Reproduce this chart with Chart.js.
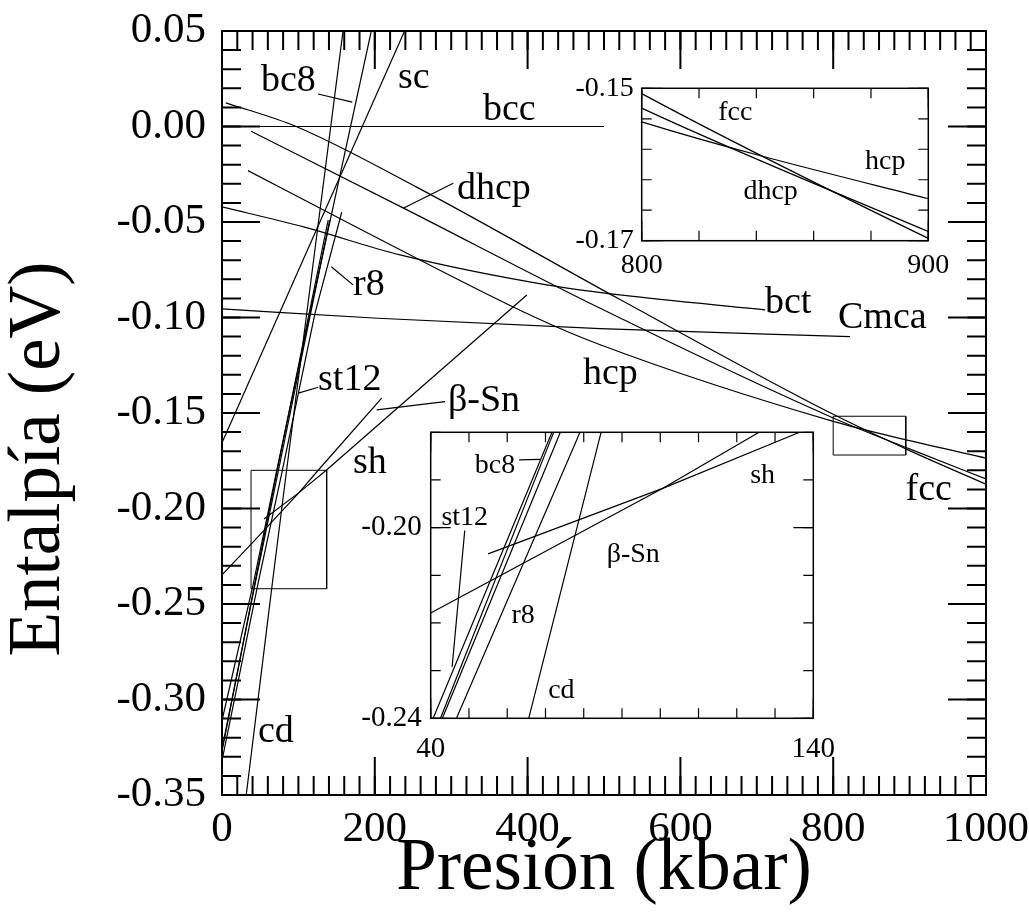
<!DOCTYPE html>
<html><head><meta charset="utf-8">
<script src="https://cdn.jsdelivr.net/npm/chart.js@4.4.1/dist/chart.umd.min.js"></script>
<style>
html,body{margin:0;padding:0;background:#fff;}
#wrap{position:relative;width:1029px;height:922px;overflow:hidden;}
canvas{position:absolute;}
</style></head><body>
<div id="wrap">
<canvas id="main" width="1060" height="952" style="left:0;top:-30px;width:1060px;height:952px"></canvas>
<canvas id="ins1" width="420" height="260" style="left:550px;top:40px;width:420px;height:260px"></canvas>
<canvas id="ins2" width="520" height="400" style="left:340px;top:380px;width:520px;height:400px"></canvas>
</div>
<script>
// ---------- data (pressure in kbar, enthalpy in eV) ----------
const P_bcc = [0, 500];                 const E_bcc = [0, 0];
const P_fcc = [5, 97, 256, 521, 800, 900, 1000];
const E_fcc = [0.0124, 0.0, -0.032, -0.0906, -0.1507, -0.1697, -0.1873];
const P_dhcp = [38, 237, 495, 800, 900, 1000];
const E_dhcp = [-0.0025, -0.0426, -0.0952, -0.1526, -0.1688, -0.1845];
const P_hcp = [34, 178, 407.5, 495, 800, 900, 1000];
const E_hcp = [-0.0231, -0.0531, -0.0995, -0.1143, -0.1544, -0.1645, -0.1736];
const P_bct = [0, 108, 233, 425, 521, 711];
const E_bct = [-0.0421, -0.0527, -0.0672, -0.0829, -0.0882, -0.0960];
const P_Cmca = [0, 204, 495, 822];
const E_Cmca = [-0.0955, -0.1004, -0.1058, -0.1100];
const P_sc = [0, 239];                  const E_sc = [-0.1656, 0.05];
const P_cd = [20, 66, 84, 158.4];       const E_cd = [-0.388, -0.2388, -0.1817, 0.05];
const P_bc8 = [0, 41, 70.8, 115.2, 195.4];
const E_bc8 = [-0.311, -0.2393, -0.1817, -0.0978, 0.05];
const P_st12 = [0, 42.9, 71.3, 139];
const E_st12 = [-0.327, -0.2393, -0.1817, -0.049];
const P_unlabeled = [0, 43.4, 73, 141];
const E_unlabeled = [-0.326, -0.2393, -0.1817, -0.049];
const P_r8 = [1, 47.1, 78.1, 121.7, 156.7];
const E_r8 = [-0.33, -0.2393, -0.1817, -0.0978, -0.0449];
const P_betaSn = [0, 40, 100.8, 125.6, 209];
const E_betaSn = [-0.2347, -0.2179, -0.1917, -0.1801, -0.1422];
const P_sh = [55, 100.8, 136.1, 399];
const E_sh = [-0.2055, -0.1917, -0.1801, -0.0882];

// zoom boxes drawn in the main panel
const box1P = [800, 895, 895, 800, 800];      const box1E = [-0.1517, -0.1517, -0.172, -0.172, -0.1517];
const box2P = [38, 137, 137, 38, 38];         const box2E = [-0.180, -0.180, -0.242, -0.242, -0.180];

// tick values / labels
const mainXTicks = [0, 200, 400, 600, 800, 1000];
const mainYTicks = [0.05, 0.00, -0.05, -0.10, -0.15, -0.20, -0.25, -0.30, -0.35];
const ins1XTicks = [800, 900];   const ins1YTicks = [-0.15, -0.17];
const ins2XTicks = [40, 140];    const ins2YTicks = [-0.20, -0.24];

// text annotations  [text, P, E]
const mainLabels = [
  ['bc8', 51.0, 0.0186], ['sc', 230.4, 0.020], ['bcc', 341.6, 0.0034], ['dhcp', 307.6, -0.0379],
  ['r8', 171.5, -0.0882], ['st12', 125.7, -0.1379], ['β-Sn', 295.8, -0.1489], ['sh', 171.5, -0.1813],
  ['hcp', 472.5, -0.1348], ['bct', 710.7, -0.0976], ['Cmca', 806.3, -0.1054], ['fcc', 894.6, -0.1955],
  ['cd', 47.1, -0.322]
];
const mainLeaders = [
  [[125.7, 0.017], [170.5, 0.0128]],
  [[237.3, -0.0428], [302.7, -0.0297]],
  [[143.1, -0.0734], [171.5, -0.0829]],
  [[99.9, -0.1396], [126.0, -0.1365]],
  [[202.5, -0.1484], [291.9, -0.1440]]
];
const ins1Labels = [['fcc', 826.7, -0.1542], ['hcp', 877.9, -0.1606], ['dhcp', 835.5, -0.1645]];
const ins2Labels = [['bc8', 51.5, -0.1885], ['st12', 42.8, -0.1994], ['r8', 61.1, -0.2201],
  ['cd', 70.7, -0.2357], ['β-Sn', 86.0, -0.2072], ['sh', 123.5, -0.1906]];
const ins2Leaders = [
  [[63.1, -0.1858], [68.75, -0.1857]],
  [[48.9, -0.2006], [45.6, -0.2292]]
];
const yTitleText = 'Entalpía (eV)';
const xTitleText = 'Presión (kbar)';

// ---------- helpers ----------
const FONT = 'Liberation Serif, Times New Roman, serif';
function ser(P, E, curve, w) {
  return { data: P.map((p, i) => ({ x: p, y: E[i] })), showLine: true, borderColor: '#000',
    borderWidth: w || 1.2, pointRadius: 0, fill: false, tension: 0,
    cubicInterpolationMode: curve ? 'monotone' : 'default' };
}
const curveSeries = () => [
  ser(P_bcc, E_bcc), ser(P_fcc, E_fcc, true), ser(P_dhcp, E_dhcp, true), ser(P_hcp, E_hcp, true),
  ser(P_bct, E_bct, true), ser(P_Cmca, E_Cmca, true), ser(P_sc, E_sc), ser(P_cd, E_cd),
  ser(P_bc8, E_bc8), ser(P_st12, E_st12), ser(P_unlabeled, E_unlabeled), ser(P_r8, E_r8),
  ser(P_betaSn, E_betaSn), ser(P_sh, E_sh)
];
const leaderSets = (arr) => arr.map(seg => ser(seg.map(s => s[0]), seg.map(s => s[1])));

function range(a, b, step) { const out = []; for (let i = 0; a + i * step <= b + 1e-9; i++) out.push(+(a + i * step).toFixed(6)); return out; }

function deco(cfg) {
  return {
    id: 'deco_' + cfg.id,
    beforeDraw(chart) {
      if (!cfg.fill) return;
      const a = chart.chartArea, c = chart.ctx;
      c.save(); c.fillStyle = '#fff'; c.fillRect(a.left, a.top, a.width, a.height); c.restore();
    },
    afterDatasetsDraw(chart) {
      const c = chart.ctx, a = chart.chartArea, x = chart.scales.x, y = chart.scales.y;
      c.save();
      c.strokeStyle = '#000'; c.lineWidth = cfg.tickW;
      const tx = (vals, len) => { for (const v of vals) { const px = x.getPixelForValue(v);
        c.beginPath(); c.moveTo(px, a.bottom); c.lineTo(px, a.bottom - len);
        c.moveTo(px, a.top); c.lineTo(px, a.top + len); c.stroke(); } };
      const ty = (vals, len) => { for (const v of vals) { const py = y.getPixelForValue(v);
        c.beginPath(); c.moveTo(a.left, py); c.lineTo(a.left + len, py);
        c.moveTo(a.right, py); c.lineTo(a.right - len, py); c.stroke(); } };
      tx(cfg.xMinor, cfg.minLen); tx(cfg.xMajor, cfg.majLen);
      ty(cfg.yMinor, cfg.minLen); ty(cfg.yMajor, cfg.majLen);
      c.lineWidth = cfg.frameW; c.strokeRect(a.left, a.top, a.width, a.height);
      c.fillStyle = '#000'; c.font = cfg.labelFont; c.textAlign = 'left'; c.textBaseline = 'alphabetic';
      for (const l of cfg.labels) c.fillText(l[0], x.getPixelForValue(l[1]), y.getPixelForValue(l[2]));
      if (cfg.yTitle) {
        c.save(); c.font = cfg.yTitle.font; c.textAlign = 'center'; c.textBaseline = 'middle';
        c.translate(cfg.yTitle.x, a.top + cfg.yTitle.dy); c.rotate(-Math.PI / 2);
        c.fillText(cfg.yTitle.text, 0, 0); c.restore();
      }
      c.restore();
    }
  };
}

function makeChart(id, o) {
  return new Chart(document.getElementById(id), {
    type: 'scatter',
    data: { datasets: o.datasets },
    options: {
      responsive: false, animation: false, events: [],
      layout: { padding: Object.assign({}, o.pad) },
      plugins: { legend: { display: false }, tooltip: { enabled: false } },
      scales: {
        x: { type: 'linear', min: o.xmin, max: o.xmax,
          afterBuildTicks: s => { s.ticks = o.xTicks.map(v => ({ value: v })); },
          afterFit: s => { s.height = o.xh; },
          grid: { display: false, drawTicks: false }, border: { display: false },
          ticks: { font: { family: FONT, size: o.tickSize }, color: '#000', padding: o.xpad,
            maxRotation: 0, autoSkip: false, callback: v => o.xfmt(v) },
          title: { display: !!o.xtitle, text: o.xtitle, color: '#000',
            font: { family: FONT, size: o.titleSize }, padding: o.xtpad } },
        y: { type: 'linear', min: o.ymin, max: o.ymax,
          afterBuildTicks: s => { s.ticks = o.yTicks.map(v => ({ value: v })); },
          afterFit: s => { s.width = o.yw; },
          grid: { display: false, drawTicks: false }, border: { display: false },
          ticks: { font: { family: FONT, size: o.tickSize }, color: '#000', padding: o.ypad,
            autoSkip: false, callback: v => o.yfmt(v) },
          title: { display: false } }
      }
    },
    plugins: [deco(o.deco)]
  });
}

// ---------- main panel (canvas placed at top:-30px) ----------
makeChart('main', {
  datasets: curveSeries().concat(leaderSets(mainLeaders),
    [ser(box1P, box1E, false, 1), ser(box2P, box2E, false, 1)]),
  pad: { left: 0, top: 61, right: 74, bottom: 0 },
  xmin: 0, xmax: 1000, ymin: -0.35, ymax: 0.05,
  xTicks: mainXTicks, yTicks: mainYTicks, xh: 127, yw: 222,
  tickSize: 43, titleSize: 73, xpad: 9, ypad: 16,
  xfmt: v => String(v), yfmt: v => v.toFixed(2),
  xtitle: xTitleText,
  xtpad: { top: 0, bottom: 8 },
  deco: { id: 'm', fill: false, tickW: 2, frameW: 2, minLen: 19, majLen: 38,
    xMajor: mainXTicks, xMinor: range(0, 1000, 20), yMajor: mainYTicks, yMinor: range(-0.35, 0.05, 0.01),
    labelFont: '38px ' + FONT, labels: mainLabels,
    yTitle: { text: yTitleText, font: '73px ' + FONT, x: 40, dy: 428 } }
});

// ---------- inset 1 (800-900 kbar) ----------
makeChart('ins1', {
  datasets: curveSeries(),
  pad: { left: 0, top: 48.3, right: 41.7, bottom: 0 },
  xmin: 800, xmax: 900, ymin: -0.17, ymax: -0.15,
  xTicks: ins1XTicks, yTicks: ins1YTicks, xh: 59.3, yw: 91.7,
  tickSize: 28, titleSize: 10, xpad: 8, ypad: 8,
  xfmt: v => String(v), yfmt: v => v.toFixed(2),
  xtpad: 0,
  deco: { id: 'i1', fill: true, tickW: 1.2, frameW: 1.5, minLen: 10, majLen: 20,
    xMajor: ins1XTicks, xMinor: range(800, 900, 20), yMajor: ins1YTicks, yMinor: range(-0.17, -0.15, 0.004),
    labelFont: '28px ' + FONT, labels: ins1Labels }
});

// ---------- inset 2 (40-140 kbar) ----------
makeChart('ins2', {
  datasets: curveSeries().concat(leaderSets(ins2Leaders)),
  pad: { left: 0, top: 52.3, right: 46.7, bottom: 0 },
  xmin: 40, xmax: 140, ymin: -0.24, ymax: -0.18,
  xTicks: ins2XTicks, yTicks: ins2YTicks, xh: 61.7, yw: 90.7,
  tickSize: 29, titleSize: 10, xpad: 14, ypad: 9,
  xfmt: v => String(v), yfmt: v => v.toFixed(2),
  xtpad: 0,
  deco: { id: 'i2', fill: true, tickW: 1.2, frameW: 1.5, minLen: 10, majLen: 20,
    xMajor: ins2XTicks, xMinor: range(40, 140, 10), yMajor: ins2YTicks, yMinor: range(-0.24, -0.18, 0.01),
    labelFont: '28px ' + FONT, labels: ins2Labels }
});
</script>
</body></html>
